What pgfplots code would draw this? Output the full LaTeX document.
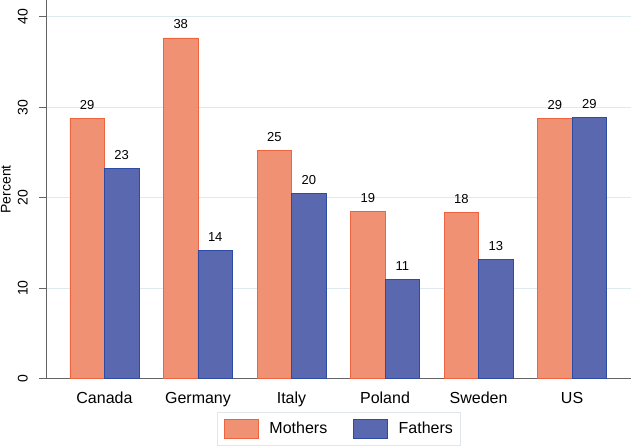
\documentclass[border=0pt]{standalone}
\usepackage{fontspec}
\setmainfont{Liberation Sans}
\usepackage{pgfplots}
\pgfplotsset{compat=1.18}
\definecolor{mfill}{RGB}{240,145,115}
\definecolor{mdraw}{RGB}{238,100,65}
\definecolor{ffill}{RGB}{90,105,175}
\definecolor{fdraw}{RGB}{45,75,165}
\definecolor{gridc}{RGB}{222,234,238}
\definecolor{axc}{RGB}{100,100,100}
\definecolor{legc}{RGB}{222,232,236}
\begin{document}
\begin{tikzpicture}
\begin{axis}[
  at={(0,0)}, anchor=south west,
  scale only axis, width=585pt, height=378.7pt,
  xmin=-0.625, xmax=5.63, ymin=0, ymax=41.85,
  enlargelimits=false,
  ybar=0pt, bar width=34.5pt,
  axis x line*=bottom, axis y line*=left,
  axis line style={axc, line width=0.8pt},
  xtick={0,1,2,3,4,5},
  xticklabels={Canada,Germany,Italy,Poland,Sweden,US},
  x tick style={draw=none},
  x tick label style={font=\fontsize{16}{18}\selectfont, inner sep=0pt, anchor=north, yshift=-6pt},
  ytick={0,10,20,30,40},
  yticklabels={\rotatebox{90}{0},\rotatebox{90}{10},\rotatebox{90}{20},\rotatebox{90}{30},\rotatebox{90}{40}},
  y tick style={axc, line width=0.8pt},
  tick align=outside, major tick length=7pt,
  y tick label style={font=\fontsize{14}{16}\selectfont, anchor=east, inner sep=0pt, xshift=-11pt},
  ymajorgrids,
  major grid style={gridc, line width=0.8pt},
  every axis y label/.style={at={(axis description cs:-0.0684,0.5)}, rotate=90, anchor=center, font=\fontsize{14}{16}\selectfont},
  ylabel={Percent},
  nodes near coords={\pgfmathprintnumber[fixed,precision=0]{\pgfplotspointmeta}},
  every node near coord/.append style={font=\fontsize{13}{15}\selectfont, inner sep=0pt, yshift=8.5pt, text=black},
  /pgf/number format/assume math mode=true,
  legend columns=2,
  legend image code/.code={\draw[#1] (0pt,-9.5pt) rectangle (34pt,9.5pt); \path[draw=none,fill=none] (0pt,0pt) -- (45pt,0pt);},
  legend style={at={(0.5,-0.0879)}, anchor=north, draw=legc, line width=0.8pt,
    inner xsep=7pt, inner ysep=6.5pt,
    font=\fontsize{16}{18}\selectfont,
    nodes={inner sep=0pt},
    /tikz/every even column/.append style={column sep=26pt}},
]
\addplot[fill=mfill, draw=mdraw, line width=0.8pt] coordinates {(0,28.77) (1,37.65) (2,25.25) (3,18.5) (4,18.4) (5,28.8)};
\addplot[fill=ffill, draw=fdraw, line width=0.8pt] coordinates {(0,23.25) (1,14.2) (2,20.45) (3,11.0) (4,13.2) (5,28.85)};
\legend{Mothers,Fathers}
\end{axis}
\pgfresetboundingbox
\path (-46pt,-67.3pt) rectangle (585pt,378.7pt);
\end{tikzpicture}
\end{document}
